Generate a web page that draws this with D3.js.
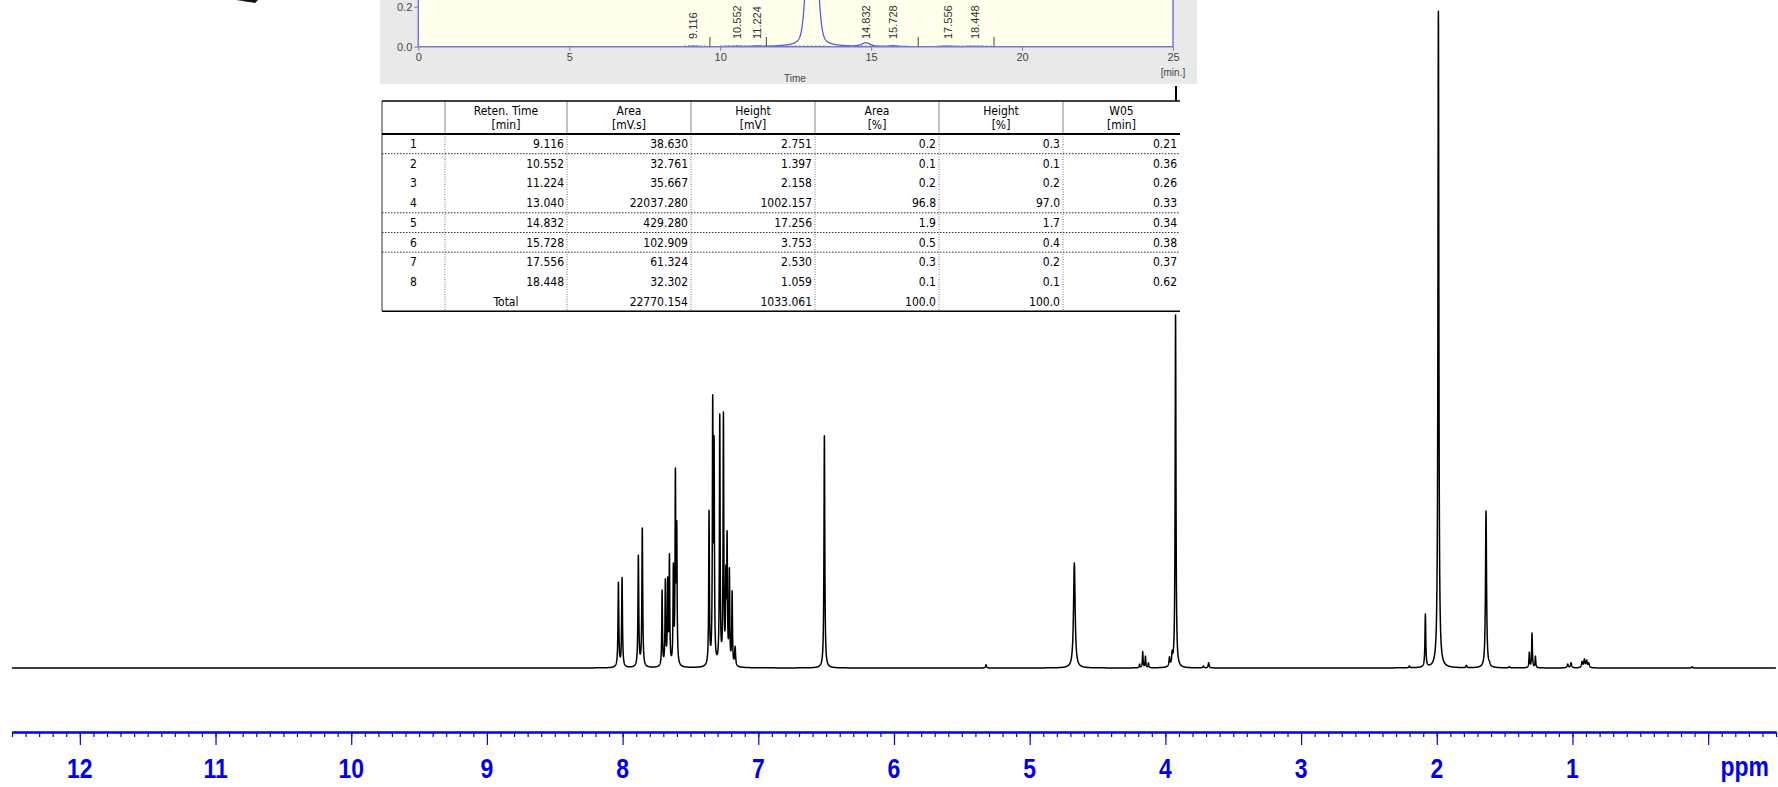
<!DOCTYPE html>
<html>
<head>
<meta charset="utf-8">
<script src="https://cdn.jsdelivr.net/npm/d3@7"></script>
<style>
  body { margin: 0; background: #fff; }
  svg { display: block; }
</style>
</head>
<body>
<svg id="chart"></svg>
<script>
//*************** data ******************//

// 1H NMR peak list: shift (ppm), height (% of tallest line), half width (ppm)
var nmrShift     = [8.031, 8.004, 7.884, 7.855, 7.709, 7.685, 7.668, 7.655, 7.626, 7.611, 7.601,
                    7.363, 7.336, 7.326, 7.284, 7.257, 7.239, 7.230, 7.213, 7.193, 7.171,
                    6.513, 5.322, 4.671, 4.190, 4.167, 4.147, 4.125, 3.970, 3.950, 3.925,
                    3.720, 3.681, 2.202, 2.084, 1.988, 1.782, 1.637, 1.612, 1.465,
                    1.318, 1.298, 1.273, 1.035, 1.010, 0.929, 0.912, 0.895, 0.880, 0.117];
var nmrHeight    = [13.0, 13.7, 17.1, 21.2, 11.8, 13.5, 13.8, 17.3, 15.9, 30.3, 22.3,
                    23.9, 41.4, 35.2, 38.5, 38.8, 15.6, 20.8, 15.2, 11.7, 3.3,
                    35.2, 0.5, 15.9, 0.6, 2.5, 1.8, 0.8, 1.7, 2.7, 53.5,
                    0.3, 0.8, 0.3, 8.2, 99.5, 0.4, 23.8, 1.1, 0.2,
                    2.4, 5.3, 1.8, 0.6, 0.8, 1.0, 1.4, 1.2, 0.8, 0.2];
var nmrHalfWidth = [0.0035, 0.0035, 0.0035, 0.0035, 0.003, 0.003, 0.003, 0.003, 0.003, 0.003, 0.003,
                    0.003, 0.003, 0.003, 0.003, 0.003, 0.003, 0.003, 0.003, 0.003, 0.004,
                    0.0035, 0.004, 0.007, 0.003, 0.003, 0.003, 0.003, 0.004, 0.004, 0.0035,
                    0.004, 0.004, 0.004, 0.0035, 0.004, 0.004, 0.0045, 0.004, 0.004,
                    0.003, 0.003, 0.003, 0.005, 0.005, 0.005, 0.005, 0.005, 0.005, 0.004];

var ppmMajor = d3.range(0, 13);              // 0 ... 12
var ppmMinor = d3.range(-5, 126).map(function(i) { return i / 10; });

// HPLC report (inset)
var peakNo    = [1, 2, 3, 4, 5, 6, 7, 8];
var retTime   = [9.116, 10.552, 11.224, 13.040, 14.832, 15.728, 17.556, 18.448];
var areaMVs   = [38.630, 32.761, 35.667, 22037.280, 429.280, 102.909, 61.324, 32.302];
var heightMV  = [2.751, 1.397, 2.158, 1002.157, 17.256, 3.753, 2.530, 1.059];
var areaPct   = [0.2, 0.1, 0.2, 96.8, 1.9, 0.5, 0.3, 0.1];
var heightPct = [0.3, 0.1, 0.2, 97.0, 1.7, 0.4, 0.2, 0.1];
var w05       = [0.21, 0.36, 0.26, 0.33, 0.34, 0.38, 0.37, 0.62];
var totalArea = 22770.154, totalHeight = 1033.061, totalAreaPct = 100.0, totalHeightPct = 100.0;
var tableHeaders = [["", ""], ["Reten. Time", "[min]"], ["Area", "[mV.s]"], ["Height", "[mV]"],
                    ["Area", "[%]"], ["Height", "[%]"], ["W05", "[min]"]];
var chromXTicks = [0, 5, 10, 15, 20, 25];
var chromYTicks = [0.0, 0.2];
var markerTimes = [9.66, 11.53, 16.56, 19.07];       // integration marks
var baselineSegs = [[8.8, 9.6], [10.0, 11.5], [12.2, 13.5], [14.4, 15.4], [17.2, 19.0]];

//*************** canvas ******************//
var W = 1778, H = 787;
var svg = d3.select("#chart").attr("width", W).attr("height", H);

//*************** NMR spectrum ******************//
var xScale = d3.scaleLinear().domain([12.5, -0.5]).range([12, 1776]);
var yScale = d3.scaleLinear().domain([0, 100]).range([668, 8]);

function lorentz(d, g) { return 1 / (1 + (d / g) * (d / g)); }

// amplitudes adjusted so that overlapping lines still reach the read heights
var amp = nmrHeight.slice();
for (var it = 0; it < 40; it++) {
  for (var i = 0; i < nmrShift.length; i++) {
    var s = 0;
    for (var j = 0; j < nmrShift.length; j++) s += amp[j] * lorentz(nmrShift[i] - nmrShift[j], nmrHalfWidth[j]);
    amp[i] = Math.max(0, amp[i] + 0.7 * (nmrHeight[i] - s));
  }
}

var grid = d3.range(12.5, -0.5, -0.0005).concat(nmrShift).sort(function(a, b) { return b - a; });
var spectrum = grid.map(function(p) {
  var v = 0;
  for (var j = 0; j < nmrShift.length; j++) v += amp[j] * lorentz(p - nmrShift[j], nmrHalfWidth[j]);
  return { ppm: p, y: v };
});

svg.append("path")
  .datum(spectrum)
  .attr("fill", "none")
  .attr("stroke", "#000")
  .attr("stroke-width", 1.5)
  .attr("stroke-linejoin", "round")
  .attr("d", d3.line().x(function(d) { return xScale(d.ppm); }).y(function(d) { return yScale(d.y); }));

// ppm axis
var axisBlue = "#0000f0";
var axisG = svg.append("g").attr("transform", "translate(0,732)");
axisG.call(d3.axisBottom(xScale).tickValues(ppmMinor).tickSize(5).tickSizeOuter(0).tickFormat(""));
axisG.call(function(g) {
  g.append("g").call(d3.axisBottom(xScale).tickValues(ppmMajor).tickSize(13).tickSizeOuter(0).tickFormat(""));
});
axisG.selectAll("path").attr("stroke", axisBlue).attr("stroke-width", 2);
axisG.selectAll("line").attr("stroke", axisBlue).attr("stroke-width", 1.2);

svg.append("g").selectAll("text")
  .data(ppmMajor.filter(function(d) { return d > 0; }))
  .enter().append("text")
  .attr("transform", function(d) { return "translate(" + xScale(d) + ",778) scale(0.82,1)"; })
  .attr("text-anchor", "middle")
  .attr("font-family", "'Liberation Sans', Arial, sans-serif")
  .attr("font-weight", "bold")
  .attr("font-size", "28px")
  .attr("fill", axisBlue)
  .text(function(d) { return d; });

svg.append("text")
  .attr("transform", "translate(" + xScale(-0.27) + ",776) scale(0.82,1)")
  .attr("text-anchor", "middle")
  .attr("font-family", "'Liberation Sans', Arial, sans-serif")
  .attr("font-weight", "bold")
  .attr("font-size", "28px")
  .attr("fill", axisBlue)
  .text("ppm");

//*************** chromatogram inset (cropped) ******************//
var chromFont = "'Liberation Sans', Arial, sans-serif";
svg.append("rect").attr("x", 380).attr("y", 0).attr("width", 817).attr("height", 84).attr("fill", "#e9e9e9");

var xc = d3.scaleLinear().domain([0, 25]).range([418.3, 1173]);
var yc = d3.scaleLinear().domain([0, 0.2]).range([46.7, 6.7]);

svg.append("rect").attr("x", xc(0)).attr("y", 0).attr("width", xc(25) - xc(0)).attr("height", yc(0))
  .attr("fill", "#ffffec");

svg.append("defs").append("clipPath").attr("id", "chrom-clip")
  .append("rect").attr("x", xc(0)).attr("y", -5).attr("width", xc(25) - xc(0)).attr("height", yc(0) + 5);

// baseline integration segments
svg.append("g").selectAll("line")
  .data(baselineSegs).enter().append("line")
  .attr("x1", function(d) { return xc(d[0]); })
  .attr("x2", function(d) { return xc(d[1]); })
  .attr("y1", yc(0) - 0.5).attr("y2", yc(0) - 0.5)
  .attr("stroke", "#333").attr("stroke-width", 1).attr("stroke-dasharray", "2,2");

// trace from the peak table (pseudo-Voigt, W05 = width at half height)
var tgrid = d3.range(0, 25.001, 0.005);
var chrom = tgrid.map(function(t) {
  var v = 0;
  for (var k = 0; k < retTime.length; k++) {
    var sig = w05[k] / 2.355, gam = w05[k] / 2, dt = t - retTime[k];
    var shape = 0.75 * Math.exp(-dt * dt / (2 * sig * sig)) + 0.25 / (1 + (dt / gam) * (dt / gam));
    v += heightMV[k] / 1000 * shape;
  }
  return { t: t, v: v };
});
svg.append("path")
  .datum(chrom)
  .attr("clip-path", "url(#chrom-clip)")
  .attr("fill", "none")
  .attr("stroke", "#5a5ae6")
  .attr("stroke-width", 1.3)
  .attr("d", d3.line().x(function(d) { return xc(d.t); }).y(function(d) { return yc(d.v); }));

// frame
var frameCol = "#7777e0";
svg.append("path")
  .attr("d", "M" + xc(0) + ",0V" + yc(0) + "H" + xc(25) + "V0")
  .attr("fill", "none").attr("stroke", frameCol).attr("stroke-width", 1.5);

// x ticks + labels
var cx = svg.append("g").attr("transform", "translate(0," + yc(0) + ")")
  .call(d3.axisBottom(xc).tickValues(chromXTicks).tickSize(4).tickSizeOuter(0).tickPadding(3));
cx.select(".domain").remove();
cx.selectAll("line").attr("stroke", frameCol);
cx.selectAll("text").attr("font-family", chromFont).attr("font-size", "11px").attr("fill", "#444");

// y ticks + labels
var cy = svg.append("g").attr("transform", "translate(" + xc(0) + ",0)")
  .call(d3.axisLeft(yc).tickValues(chromYTicks).tickSize(4).tickFormat(d3.format(".1f")).tickPadding(2));
cy.select(".domain").remove();
cy.selectAll("line").attr("stroke", frameCol);
cy.selectAll("text").attr("font-family", chromFont).attr("font-size", "11px").attr("fill", "#444");

svg.append("text").attr("x", 795).attr("y", 82).attr("text-anchor", "middle")
  .attr("font-family", chromFont).attr("font-size", "10px").attr("fill", "#444").text("Time");
svg.append("text").attr("x", xc(25)).attr("y", 76).attr("text-anchor", "middle")
  .attr("font-family", chromFont).attr("font-size", "10px").attr("fill", "#444").text("[min.]");

// integration marks
svg.append("g").selectAll("line")
  .data(markerTimes).enter().append("line")
  .attr("x1", function(d) { return xc(d); }).attr("x2", function(d) { return xc(d); })
  .attr("y1", 37).attr("y2", yc(0))
  .attr("stroke", "#444").attr("stroke-width", 1);

// retention time labels (main peak is off the top)
svg.append("g").selectAll("text")
  .data(retTime.filter(function(d, i) { return heightMV[i] < 100; }))
  .enter().append("text")
  .attr("transform", function(d) { return "translate(" + (xc(d) + 4) + ",39) rotate(-90)"; })
  .attr("font-family", chromFont).attr("font-size", "11px").attr("fill", "#333")
  .text(d3.format(".3f"));

// connector line to table
svg.append("line").attr("x1", 1176).attr("x2", 1176).attr("y1", 86).attr("y2", 101)
  .attr("stroke", "#000").attr("stroke-width", 2);

//*************** peak table ******************//
var colEdges = [382, 445, 567, 691, 815, 939, 1063, 1180];
var tTop = 101, hBot = 134, rowH = 19.7;
var tableFont = "'DejaVu Sans Condensed', 'DejaVu Sans', sans-serif";
var tbl = svg.append("g").attr("id", "peak-table");

var rows = peakNo.map(function(n, i) {
  return [String(n), d3.format(".3f")(retTime[i]), d3.format(".3f")(areaMVs[i]), d3.format(".3f")(heightMV[i]),
          d3.format(".1f")(areaPct[i]), d3.format(".1f")(heightPct[i]), d3.format(".2f")(w05[i])];
});
rows.push(["", "Total", d3.format(".3f")(totalArea), d3.format(".3f")(totalHeight),
           d3.format(".1f")(totalAreaPct), d3.format(".1f")(totalHeightPct), ""]);
var tBot = hBot + rowH * rows.length;

// header vertical lines (solid) and body vertical lines (dotted)
colEdges.slice(1, 7).forEach(function(xe) {
  tbl.append("line").attr("x1", xe).attr("x2", xe).attr("y1", tTop).attr("y2", hBot)
    .attr("stroke", "#888").attr("stroke-width", 1);
  tbl.append("line").attr("x1", xe).attr("x2", xe).attr("y1", hBot).attr("y2", tBot)
    .attr("stroke", "#777").attr("stroke-width", 1).attr("stroke-dasharray", "1,1.5");
});
tbl.append("line").attr("x1", colEdges[0]).attr("x2", colEdges[0]).attr("y1", tTop).attr("y2", tBot)
  .attr("stroke", "#555").attr("stroke-width", 1.2);

// horizontal lines
[tTop, hBot, tBot].forEach(function(yy, k) {
  tbl.append("line").attr("x1", colEdges[0]).attr("x2", colEdges[7]).attr("y1", yy).attr("y2", yy)
    .attr("stroke", "#000").attr("stroke-width", k === 1 ? 2 : 1.5);
});
[0, 3, 4, 5].forEach(function(r) {
  var yy = hBot + rowH * (r + 1);
  tbl.append("line").attr("x1", colEdges[0]).attr("x2", colEdges[7]).attr("y1", yy).attr("y2", yy)
    .attr("stroke", "#333").attr("stroke-width", 1).attr("stroke-dasharray", "1.5,1.5");
});

// header text
tableHeaders.forEach(function(h, c) {
  var mx = (colEdges[c] + colEdges[c + 1]) / 2;
  [0, 1].forEach(function(l) {
    tbl.append("text").attr("x", mx).attr("y", 111 + l * 14).attr("dy", "0.35em")
      .attr("text-anchor", "middle").attr("font-family", tableFont).attr("font-size", "12px")
      .attr("fill", "#000").text(h[l]);
  });
});

// body text
rows.forEach(function(r, ri) {
  var yy = hBot + rowH * (ri + 0.5);
  r.forEach(function(v, c) {
    var centered = (c === 0) || (v === "Total");
    tbl.append("text")
      .attr("x", centered ? (colEdges[c] + colEdges[c + 1]) / 2 : colEdges[c + 1] - 3)
      .attr("y", yy).attr("dy", "0.35em")
      .attr("text-anchor", centered ? "middle" : "end")
      .attr("font-family", tableFont).attr("font-size", "12px")
      .attr("fill", "#000").text(v);
  });
});

// cropped fragment at the top-left edge
svg.append("path").attr("d", "M236,0 Q248,1.8 255,3 L258,0 Z").attr("fill", "#111");
</script>
</body>
</html>
